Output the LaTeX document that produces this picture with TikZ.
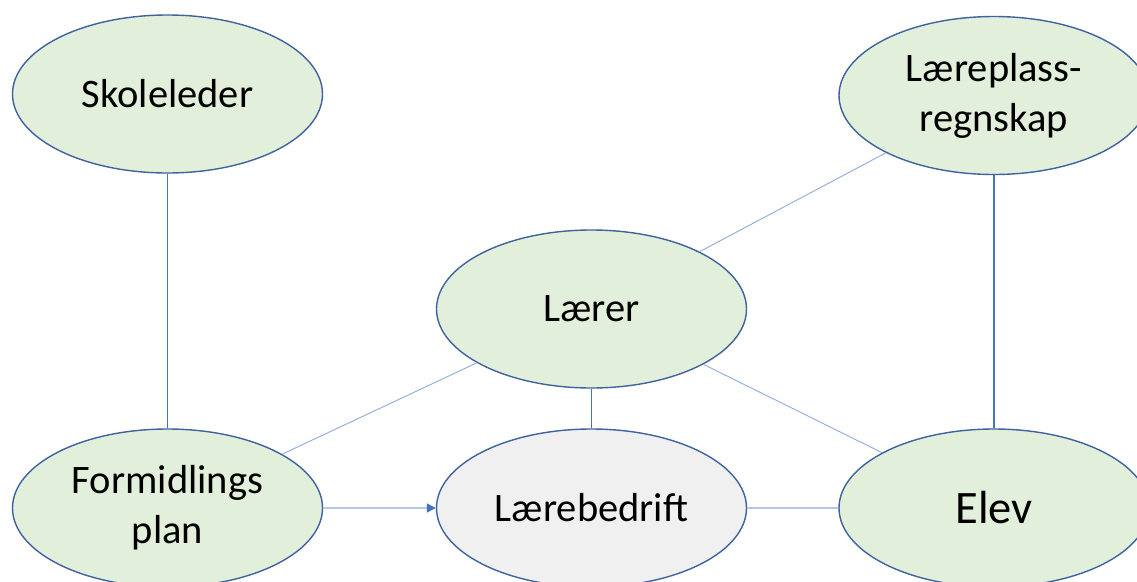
\documentclass[tikz,border=0pt]{standalone}
\usepackage{fontspec}
\setmainfont{Carlito}
\usetikzlibrary{shapes.geometric,arrows.meta}
\definecolor{nodefill}{HTML}{E2EFDA}
\definecolor{greyfill}{HTML}{F0F0F0}
\definecolor{nodeborder}{HTML}{3F62A0}
\definecolor{linkdark}{HTML}{4472C4}
\definecolor{linklight}{HTML}{8FAADC}
\definecolor{linkpale}{HTML}{B4C7E7}
\tikzset{
  blob/.style={ellipse, draw=nodeborder, line width=1.4pt, fill=nodefill,
    minimum width=310pt, minimum height=158pt, inner sep=0pt, align=center,
    font=\fontsize{40.5}{50}\selectfont},
  greyblob/.style={blob, fill=greyfill},
  strong/.style={draw=linkdark, line width=1.1pt},
  thin/.style={draw=linklight, line width=0.9pt},
  pale/.style={draw=linkpale, line width=1.2pt},
}
\begin{document}
\begin{tikzpicture}[x=1pt,y=-1pt]
\useasboundingbox (0,0) rectangle (1137,581);
\clip (0,0) rectangle (1137,581);
\fill[white] (0,0) rectangle (1137,581);
\node[blob] (skole) at (167.5,94) {Skoleleder};
\node[blob] (regn) at (994,95.5) {Læreplass-\\regnskap};
\node[blob] (laerer) at (591.5,309) {Lærer};
\node[blob] (form) at (167.5,508) {Formidlings\\plan};
\node[greyblob] (bedrift) at (591.5,508) {Lærebedrift};
\node[blob, font=\fontsize{46.5}{52}\selectfont] (elev) at (994,508) {Elev};
\draw[strong] (skole) -- (form);
\draw[strong] (regn) -- (elev);
\draw[thin] (laerer) -- (regn);
\draw[thin] (laerer) -- (form);
\draw[thin] (laerer) -- (elev);
\draw[strong, line width=0.9pt] (laerer) -- (bedrift);
\draw[pale, -{Triangle[length=9pt,width=9pt,color=linkdark]}] (form) -- (bedrift);
\draw[pale] (bedrift) -- (elev);
\end{tikzpicture}
\end{document}
